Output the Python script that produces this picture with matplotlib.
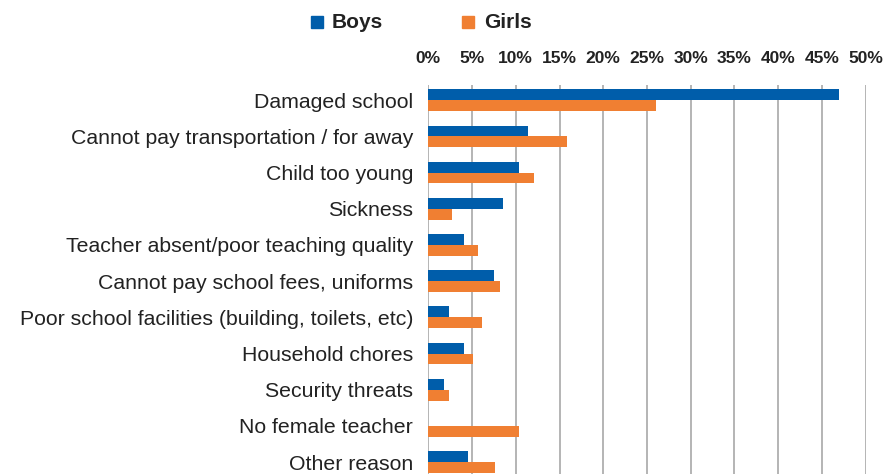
import matplotlib
matplotlib.use("Agg")
import matplotlib.pyplot as plt
import numpy as np

categories = ["Damaged school", "Cannot pay transportation / for away", "Child too young",
              "Sickness", "Teacher absent/poor teaching quality", "Cannot pay school fees, uniforms",
              "Poor school facilities (building, toilets, etc)", "Household chores",
              "Security threats", "No female teacher", "Other reason"]
boys = [47.0, 11.4, 10.4, 8.5, 4.1, 7.5, 2.4, 4.1, 1.8, 0.0, 4.5]
girls = [26.0, 15.9, 12.1, 2.7, 5.7, 8.2, 6.1, 5.1, 2.4, 10.4, 7.6]
ticks = [0, 5, 10, 15, 20, 25, 30, 35, 40, 45, 50]

plt.rcParams['font.family'] = ['Liberation Sans', 'DejaVu Sans']

blue = "#005DAA"
orange = "#F07F32"
text_col = "#222222"

fig = plt.figure(figsize=(8.83, 4.74), dpi=100)
ax = fig.add_axes([428.3 / 883, 0.0, (865.7 - 428.3) / 883, 1 - 85 / 474])

y = np.arange(len(categories))
h = 0.3
ax.barh(y - h / 2, boys, height=h, color=blue, zorder=3)
ax.barh(y + h / 2, girls, height=h, color=orange, zorder=3)

ax.set_xlim(0, 50)
ax.set_ylim(10.33, -0.42)
ax.set_xticks(ticks)
ax.set_xticklabels([f"{t}%" for t in ticks], fontweight="bold",
                   fontsize=12.5, color=text_col)
ax.xaxis.tick_top()
ax.tick_params(axis="x", length=0, pad=14)
ax.set_yticks(y)
ax.set_yticklabels(categories, fontsize=15.3, color=text_col)
ax.tick_params(axis="y", length=0, pad=11)

ax.grid(axis="x", color="#b4b4b4", linewidth=1.4, zorder=0)
for s in ax.spines.values():
    s.set_visible(False)

# legend drawn by hand at the top
fig.patches.append(plt.Rectangle((311 / 883, 1 - 28 / 474), 12 / 883, 12 / 474,
                                 transform=fig.transFigure, color=blue))
fig.text(332 / 883, 1 - 22 / 474, "Boys", fontweight="bold",
         fontsize=15, color=text_col, va="center")
fig.patches.append(plt.Rectangle((462 / 883, 1 - 28 / 474), 12 / 883, 12 / 474,
                                 transform=fig.transFigure, color=orange))
fig.text(484 / 883, 1 - 22 / 474, "Girls", fontweight="bold",
         fontsize=15, color=text_col, va="center")

fig.savefig("out.png", dpi=100)
